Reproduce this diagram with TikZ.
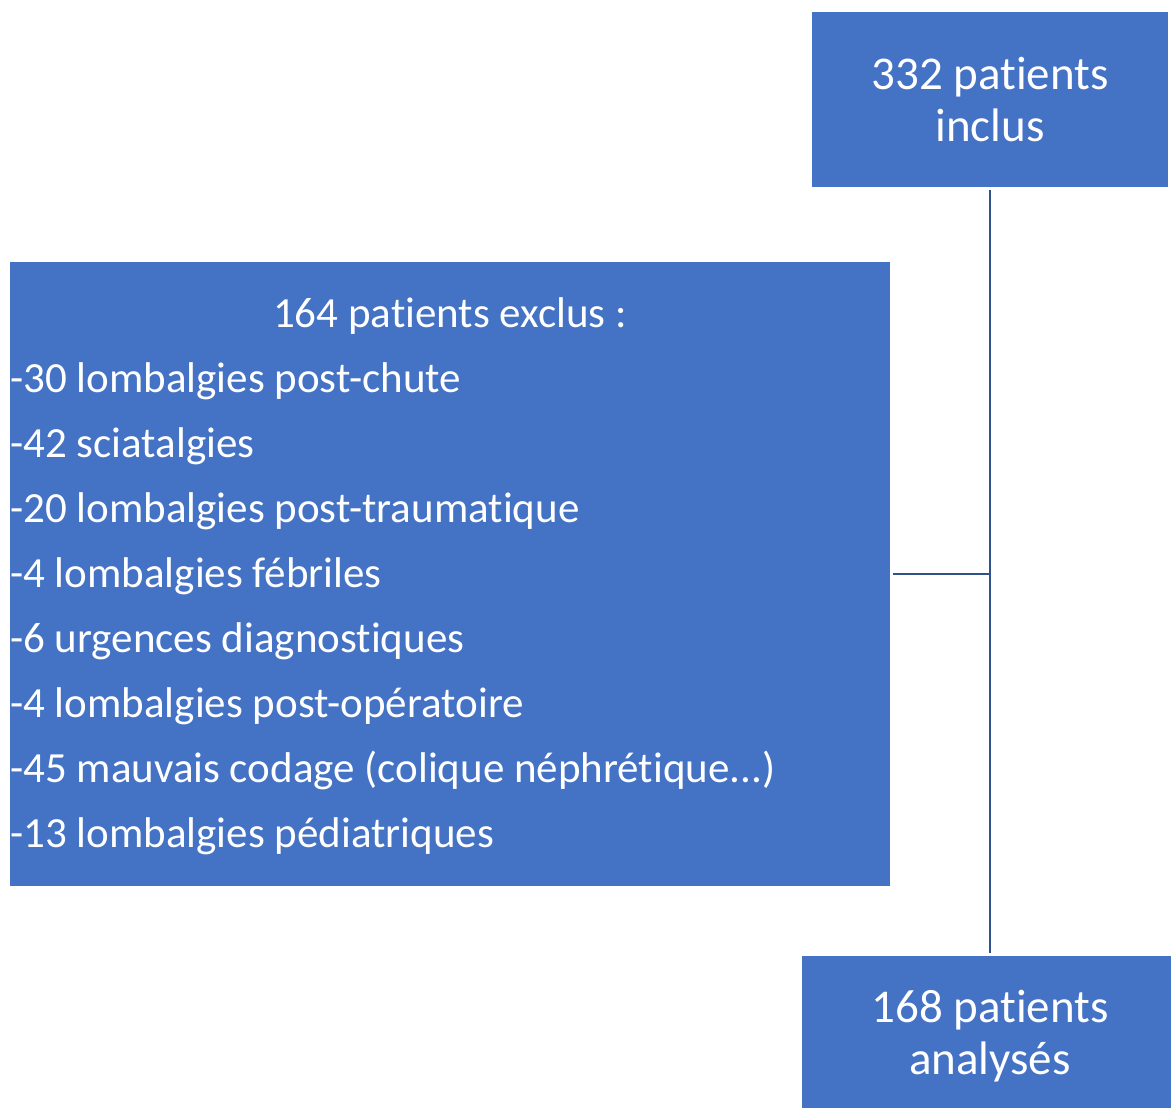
\documentclass[tikz,border=0pt]{standalone}
\usepackage{fontspec}
\setmainfont{Carlito}[Ligatures={NoCommon}]
\usetikzlibrary{positioning,calc}
\definecolor{boxblue}{HTML}{4472C4}
\definecolor{lineblue}{HTML}{2F528F}

\begin{document}
\begin{tikzpicture}[
    x=1pt,y=-1pt,
    box/.style={rectangle,draw=none,fill=boxblue,text=white,
                align=center,font=\fontsize{47}{52}\selectfont,
                inner sep=0pt},
    listtext/.style={text=white,align=left,inner sep=0pt,
                     font=\fontsize{43}{65}\selectfont},
    link/.style={draw=lineblue,line width=2.8pt}
]
  \useasboundingbox (0,0) rectangle (1171,1108);

  % Flow chart: included, excluded, analysed.
  \node[box,minimum width=356,minimum height=175] (inclus) at (990,99.5)
    {332 patients\\inclus};
  \node[box,minimum width=880,minimum height=624] (exclus) at (450,574) {};
  \node[box,minimum width=376,minimum height=160] (analyses) at (990,1036)
    {168 patients\\analysés};

  % Contents of the exclusion box.
  \node[text=white,inner sep=0pt,font=\fontsize{43}{52}\selectfont]
    (titre) at (450,316) {164 patients exclus :};
  \node[listtext,anchor=north west] (motifs) at (10,362)
    {-30 lombalgies post-chute\\
     -42 sciatalgies\\
     -20 lombalgies post-traumatique\\
     -4 lombalgies fébriles\\
     -6 urgences diagnostiques\\
     -4 lombalgies post-opératoire\\
     -45 mauvais codage (colique néphrétique.{}.{}.)\\
     -13 lombalgies pédiatriques};

  % Connectors.
  \coordinate (jonction) at (inclus.south |- exclus.east);
  \draw[link] ($(inclus.south)+(0,3)$) -- ($(analyses.north)+(0,-3)$);
  \draw[link] ($(exclus.east)+(3,0)$) -- (jonction);
\end{tikzpicture}
\end{document}
